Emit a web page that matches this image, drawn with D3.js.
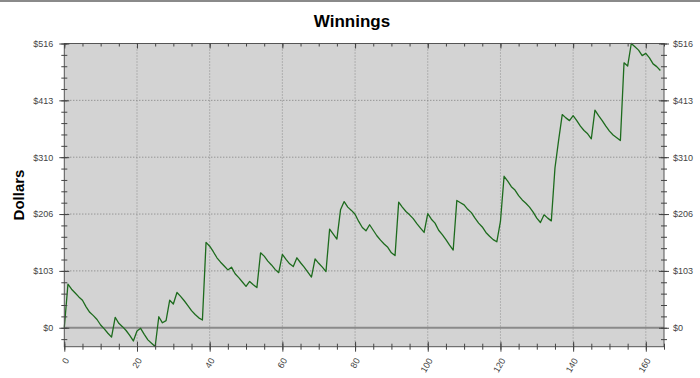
<!DOCTYPE html>
<html>
<head>
<meta charset="utf-8">
<script src="https://cdn.jsdelivr.net/npm/d3@7"></script>
<style>
  html, body { margin: 0; padding: 0; background: #fff; }
  svg { display: block; }
  text { font-family: "Liberation Sans", Arial, sans-serif; }
</style>
</head>
<body>
<svg id="chart" width="700" height="378"></svg>
<script>
// ---- data ----
const winnings = [
  0, 79, 70, 63, 56, 50, 38, 28, 22, 15,
  5, -2, -10, -17, 19, 8, 2, -5, -14, -24,
  -6, -1, -12, -22, -28, -34, 20, 9, 13, 50,
  43, 64, 57, 49, 40, 31, 24, 18, 14, 155,
  148, 138, 127, 119, 112, 105, 110, 98, 91, 83,
  75, 84, 78, 73, 136, 130, 121, 114, 106, 100,
  133, 124, 116, 111, 127, 118, 110, 101, 92, 125,
  117, 110, 102, 179, 170, 161, 214, 229, 219, 213,
  206, 193, 182, 176, 187, 177, 167, 159, 152, 146,
  136, 131, 228, 219, 211, 205, 198, 189, 181, 173,
  207, 197, 190, 177, 169, 160, 150, 141, 231, 227,
  223, 215, 209, 199, 190, 183, 173, 166, 160, 156,
  193, 275, 266, 256, 250, 240, 232, 226, 219, 210,
  199, 191, 205, 199, 194, 290, 340, 387, 381, 376,
  385, 376, 366, 358, 352, 343, 395, 385, 376, 366,
  357, 350, 345, 340, 481, 475, 516, 510, 504, 494,
  498, 490, 479, 474, 467
];
const xMajorTicks = [0, 20, 40, 60, 80, 100, 120, 140, 160];
const yMajorTicks = [0, 103.2, 206.4, 309.6, 412.8, 516];
const yTickLabels = ["$0", "$103", "$206", "$310", "$413", "$516"];
const xDomain = [0, 165];
const yDomain = [-34.4, 516];
const title = "Winnings";
const yTitle = "Dollars";

// ---- layout ----
const svg = d3.select("#chart");
const L = 64.3, R = 664, T = 43.5, B = 346.7;
const x = d3.scaleLinear().domain(xDomain).range([L, R]);
const y = d3.scaleLinear().domain(yDomain).range([B, T]);

const xMinor = d3.range(0, 166, 5);
const yMinor = d3.range(-25, 26).map(k => k * 20.64).filter(v => v >= yDomain[0] && v <= 516.01);

// top frame line of the image
svg.append("line").attr("x1", 0).attr("x2", 700).attr("y1", 1).attr("y2", 1)
  .attr("stroke", "#8a8a8a").attr("stroke-width", 2);

// plot background
svg.append("rect").attr("x", L).attr("y", T).attr("width", R - L).attr("height", B - T)
  .attr("fill", "#d3d3d3");

// grid
const grid = svg.append("g");
grid.selectAll("line.gx").data(xMajorTicks.filter(d => d > 0)).join("line")
  .attr("x1", d => x(d)).attr("x2", d => x(d)).attr("y1", T).attr("y2", B)
  .attr("stroke", "#8c8c8c").attr("stroke-width", 1).attr("stroke-dasharray", "1,2");
grid.selectAll("line.gy").data(yMajorTicks.filter(d => d > 0 && d < 516)).join("line")
  .attr("x1", L).attr("x2", R).attr("y1", d => y(d)).attr("y2", d => y(d))
  .attr("stroke", "#7a7a7a").attr("stroke-width", 1).attr("stroke-dasharray", "1,2");

// zero line
svg.append("line").attr("x1", L).attr("x2", R).attr("y1", y(0)).attr("y2", y(0))
  .attr("stroke", "#8a8a8a").attr("stroke-width", 2);

// data line
const line = d3.line().x((d, i) => x(i)).y(d => y(d));
svg.append("path").datum(winnings).attr("d", line)
  .attr("fill", "none").attr("stroke", "#1d6b1d").attr("stroke-width", 1.3)
  .attr("stroke-linejoin", "round");

// frame
svg.append("rect").attr("x", L).attr("y", T).attr("width", R - L).attr("height", B - T)
  .attr("fill", "none").attr("stroke", "#555").attr("stroke-width", 1);

function styleAxis(g) {
  g.select(".domain").remove();
  g.selectAll("line").attr("stroke", "#444");
  g.selectAll("text").attr("fill", "#444").style("font-size", "9px")
    .style("font-family", "'Liberation Sans', Arial, sans-serif");
}

// left axis
const gl = svg.append("g").attr("transform", `translate(${L},0)`);
gl.append("g").call(d3.axisLeft(y).tickValues(yMinor).tickFormat("").tickSize(3))
  .call(styleAxis).selectAll("line").attr("x1", 3);
gl.append("g").call(d3.axisLeft(y).tickValues(yMajorTicks).tickFormat((d, i) => yTickLabels[i]).tickSize(5).tickPadding(6))
  .call(styleAxis).selectAll("line").attr("x1", 5);

// right axis
const gr = svg.append("g").attr("transform", `translate(${R},0)`);
gr.append("g").call(d3.axisRight(y).tickValues(yMinor).tickFormat("").tickSize(3))
  .call(styleAxis).selectAll("line").attr("x1", -3);
gr.append("g").call(d3.axisRight(y).tickValues(yMajorTicks).tickFormat((d, i) => yTickLabels[i]).tickSize(5).tickPadding(4))
  .call(styleAxis).selectAll("line").attr("x1", -5);

// bottom axis
const gb = svg.append("g").attr("transform", `translate(0,${B})`);
gb.append("g").call(d3.axisBottom(x).tickValues(xMinor).tickFormat("").tickSize(3))
  .call(styleAxis).selectAll("line").attr("y1", -3);
const gbm = gb.append("g").call(d3.axisBottom(x).tickValues(xMajorTicks).tickFormat(d3.format("d")).tickSize(5))
  .call(styleAxis);
gbm.selectAll("line").attr("y1", -5);
gbm.selectAll("text")
  .attr("y", 0).attr("dy", "0.35em")
  .attr("transform", "translate(2,12) rotate(-60)")
  .attr("text-anchor", "end");

// top axis
const gt = svg.append("g").attr("transform", `translate(0,${T})`);
gt.append("g").call(d3.axisTop(x).tickValues(xMinor).tickFormat("").tickSize(0))
  .call(styleAxis).selectAll("line").attr("y2", 3);
gt.append("g").call(d3.axisTop(x).tickValues(xMajorTicks).tickFormat("").tickSize(0))
  .call(styleAxis).selectAll("line").attr("y2", 5);

// titles
svg.append("text").attr("x", 352).attr("y", 27).attr("text-anchor", "middle")
  .style("font-size", "17px").style("font-weight", "bold").attr("fill", "#000").text(title);
svg.append("text").attr("transform", "translate(24,195) rotate(-90)").attr("text-anchor", "middle")
  .style("font-size", "15px").style("font-weight", "bold").attr("fill", "#000").text(yTitle);
</script>
</body>
</html>
